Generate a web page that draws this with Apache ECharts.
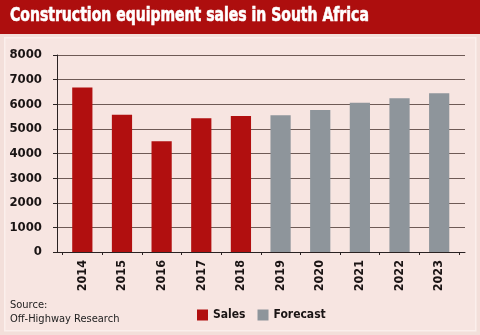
<!DOCTYPE html>
<html>
<head>
<meta charset="utf-8">
<script src="https://cdn.jsdelivr.net/npm/echarts@6/dist/echarts.min.js"></script>
<style>
  html, body { margin: 0; padding: 0; background: #f3dfda; }
  #chart { width: 480px; height: 335px; }
</style>
</head>
<body>
<div id="chart"></div>
<script>
// Yearly construction equipment sales; 2019 onward are forecasts
const years = ['2014', '2015', '2016', '2017', '2018', '2019', '2020', '2021', '2022', '2023'];
const salesValues = [6680, 5570, 4500, 5430, 5520, null, null, null, null, null];
const forecastValues = [null, null, null, null, null, 5550, 5770, 6060, 6240, 6450];
const yTicks = [0, 1000, 2000, 3000, 4000, 5000, 6000, 7000, 8000];

const condensed = '"DejaVu Sans Condensed", "Liberation Sans", sans-serif';
const RED = '#b10f0f';
const GREY = '#8e959b';
const INK = '#1a1414';
const AXIS = '#2a2222';

const chart = echarts.init(document.getElementById('chart'), null, { renderer: 'canvas' });

chart.setOption({
  backgroundColor: '#f3dfda',
  animation: false,
  graphic: [
    // header band
    { type: 'rect', left: 0, top: 0, shape: { width: 480, height: 34 }, style: { fill: '#ad0e0e' }, z: -10 },
    // inner panel
    { type: 'rect', left: 4, top: 37, shape: { width: 471, height: 293 },
      style: { fill: '#f7e5e1', stroke: '#fbefec', lineWidth: 1.5 }, z: -10 },
    { type: 'text', x: 10, y: 7, scaleX: 0.82,
      style: { text: 'Construction equipment sales in South Africa', fill: '#ffffff',
               stroke: '#ffffff', lineWidth: 0.6,
               font: 'bold 19px ' + condensed } },
    { type: 'text', left: 10, top: 298,
      style: { text: 'Source:\nOff-Highway Research', fill: '#222', lineHeight: 14,
               font: '11px ' + condensed } }
  ],
  // grid 0 carries the frame and gridlines, grid 1 the bars (inset slightly)
  grid: [
    { left: 57, right: 15, top: 55, bottom: 83 },
    { left: 62.5, right: 21, top: 55, bottom: 83 }
  ],
  legend: {
    left: 197, top: 309, padding: 0,
    itemWidth: 11, itemHeight: 11, itemGap: 12,
    textStyle: { fontFamily: condensed, fontWeight: 'bold', fontSize: 12, color: INK },
    data: [{ name: 'Sales', icon: 'rect' }, { name: 'Forecast', icon: 'rect' }]
  },
  xAxis: [
    {
      gridIndex: 0, type: 'value', min: 0, max: 1,
      axisLine: { show: true, lineStyle: { color: AXIS, width: 1 } },
      axisTick: { show: false }, axisLabel: { show: false }, splitLine: { show: false }
    },
    {
      gridIndex: 1, type: 'category', data: years,
      axisLine: { show: false },
      axisTick: { show: true, length: 3, lineStyle: { color: AXIS } },
      axisLabel: { rotate: 90, margin: 8, color: INK, fontFamily: condensed, fontWeight: 'bold', fontSize: 12.5 }
    }
  ],
  yAxis: [
    {
      gridIndex: 0, type: 'value', min: 0, max: 8000, interval: 1000,
      axisLine: { show: true, lineStyle: { color: AXIS, width: 1 } },
      axisTick: { show: true, length: 4, lineStyle: { color: AXIS } },
      axisLabel: { margin: 15, color: INK, fontFamily: condensed, fontWeight: 'bold', fontSize: 13,
                   formatter: v => (yTicks.includes(v) ? String(v) : '') },
      splitLine: { show: true, lineStyle: { color: '#6e5a55', width: 1.2 } }
    },
    {
      gridIndex: 1, type: 'value', min: 0, max: 8000, interval: 1000, show: false
    }
  ],
  series: [
    { name: 'Sales', type: 'bar', xAxisIndex: 1, yAxisIndex: 1, data: salesValues, stack: 'all',
      barWidth: '51%', itemStyle: { color: RED } },
    { name: 'Forecast', type: 'bar', xAxisIndex: 1, yAxisIndex: 1, data: forecastValues, stack: 'all',
      barWidth: '51%', itemStyle: { color: GREY } }
  ]
});
</script>
</body>
</html>
